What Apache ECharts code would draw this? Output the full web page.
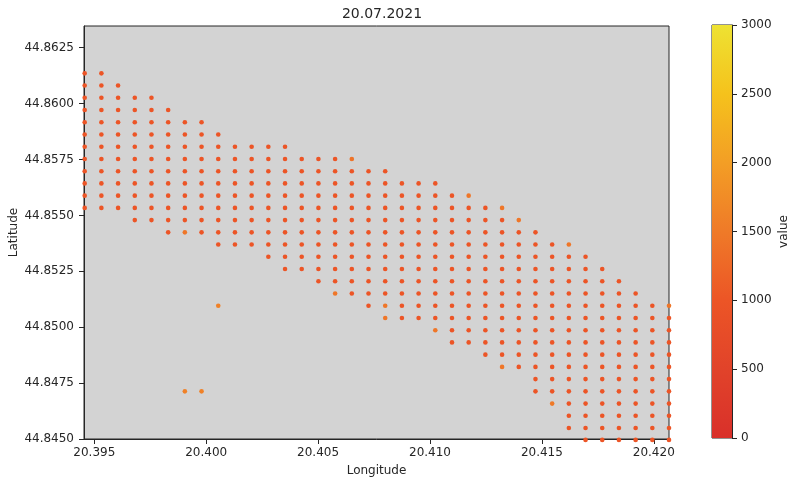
<!DOCTYPE html>
<html>
<head>
<meta charset="utf-8">
<script src="https://cdn.jsdelivr.net/npm/echarts@6/dist/echarts.min.js"></script>
<style>html,body{margin:0;padding:0;background:#fff;}#chart{width:789px;height:482px;}</style>
</head>
<body>
<div id="chart"></div>
<script>
// Longitudes of the grid columns
const lons = [20.394571, 20.395317, 20.396063, 20.396809, 20.397555, 20.398301, 20.399047, 20.399793,
  20.400539, 20.401285, 20.402031, 20.402777, 20.403523, 20.404269, 20.405015, 20.405761, 20.406507,
  20.407253, 20.407999, 20.408745, 20.409491, 20.410237, 20.410983, 20.411729, 20.412475, 20.413221,
  20.413967, 20.414713, 20.415459, 20.416205, 20.416951, 20.417697, 20.418443, 20.419189, 20.419935, 20.42068];
// Latitudes of the grid rows (top to bottom)
const lats = [44.861353, 44.860806, 44.860259, 44.859712, 44.859165, 44.858618, 44.858071, 44.857524,
  44.856977, 44.856430, 44.855883, 44.855336, 44.854789, 44.854242, 44.853695, 44.853148, 44.852601,
  44.852054, 44.851507, 44.850960, 44.850413, 44.849866, 44.849319, 44.848772, 44.848225, 44.847678,
  44.847131, 44.846584, 44.846037, 44.845490, 44.844960];
// First and last filled row for each column
const colTop    = [0,0,1,2,2,3,4,4,5,6,6,6,6,7,7,7,7,8,8,9,9,9,10,10,11,11,12,13,14,14,15,16,17,18,19,19];
const colBottom = [11,11,11,12,12,13,13,13,14,14,14,15,16,16,17,18,18,19,20,20,20,21,22,22,23,24,24,26,27,29,30,30,30,30,30,30];
// Typical value of a point and the points that look more orange: [column, row, value]
const baseValue = 1000;
const brighterPoints = [[6,13,1450],[15,18,1450],[18,19,1450],[18,20,1450],[21,21,1450],[16,7,1400],
  [23,10,1450],[25,11,1450],[26,12,1450],[29,14,1450],[25,24,1450],[28,27,1500],[35,19,1450]];
// Isolated points outside the strip: [column, row, value]
const isolatedPoints = [[6,26,1600],[7,26,1600],[8,19,1600]];
// Tick labels
const xTicks = [20.395, 20.400, 20.405, 20.410, 20.415, 20.420];
const yTicks = [44.8450, 44.8475, 44.8500, 44.8525, 44.8550, 44.8575, 44.8600, 44.8625];
const cbarTicks = [0, 500, 1000, 1500, 2000, 2500, 3000];
const cmapColors = ['#d9302a', '#e1432a', '#ec5526', '#ef7a28', '#f39e25', '#f5c21c', '#eee232'];

const special = {};
brighterPoints.concat(isolatedPoints).forEach(p => { special[p[0] + '_' + p[1]] = p[2]; });
const points = [];
for (let c = 0; c < lons.length; c++) {
  for (let r = colTop[c]; r <= colBottom[c]; r++) {
    const k = c + '_' + r;
    points.push([lons[c], lats[r], special[k] !== undefined ? special[k] : baseValue]);
  }
}
isolatedPoints.forEach(p => points.push([lons[p[0]], lats[p[1]], p[2]]));

const font = 'DejaVu Sans';
const txt = '#262626';
const line = '#262626';
const chart = echarts.init(document.getElementById('chart'));
chart.setOption({
  animation: false,
  backgroundColor: '#ffffff',
  textStyle: { fontFamily: font },
  title: {
    text: '20.07.2021', left: 377, top: 2, textAlign: 'center',
    textStyle: { fontFamily: font, fontSize: 14, fontWeight: 'normal', color: txt }
  },
  grid: [
    { left: 84, top: 26, width: 585, height: 413, show: true, backgroundColor: '#d3d3d3', borderColor: line, borderWidth: 1,
      containLabel: false, outerBoundsMode: 'none' },
    { left: 712, top: 25, width: 20, height: 413, show: true, borderColor: line, borderWidth: 1,
      containLabel: false, outerBoundsMode: 'none' }
  ],
  xAxis: [
    {
      type: 'value', gridIndex: 0, min: 20.39454, max: 20.42068,
      name: 'Longitude', nameLocation: 'middle', nameGap: 26,
      nameTextStyle: { fontFamily: font, fontSize: 12, color: txt },
      splitLine: { show: false },
      axisLine: { show: true, onZero: false, lineStyle: { color: line } },
      axisTick: { show: true, inside: false, length: 5, customValues: xTicks, lineStyle: { color: line } },
      axisLabel: { customValues: xTicks, margin: 8, fontFamily: font, fontSize: 12, color: txt,
        formatter: v => v.toFixed(3) }
    },
    { type: 'category', gridIndex: 1, data: [''], show: false, boundaryGap: true }
  ],
  yAxis: [
    {
      type: 'value', gridIndex: 0, min: 44.845, max: 44.86347,
      name: 'Latitude', nameLocation: 'middle', nameGap: 64, nameMoveOverlap: false,
      nameTextStyle: { fontFamily: font, fontSize: 12, color: txt },
      splitLine: { show: false },
      axisLine: { show: true, onZero: false, lineStyle: { color: line } },
      axisTick: { show: true, inside: false, length: 5, customValues: yTicks, lineStyle: { color: line } },
      axisLabel: { customValues: yTicks, margin: 10, fontFamily: font, fontSize: 12, color: txt,
        formatter: v => v.toFixed(4) }
    },
    {
      type: 'value', gridIndex: 1, position: 'right', min: 0, max: 3000, interval: 500,
      name: 'value', nameLocation: 'middle', nameGap: 46, nameRotate: 90,
      nameTextStyle: { fontFamily: font, fontSize: 12, color: txt },
      splitLine: { show: false },
      axisLine: { show: true, lineStyle: { color: line } },
      axisTick: { show: true, inside: false, length: 5, lineStyle: { color: line } },
      axisLabel: { margin: 9, fontFamily: font, fontSize: 12, color: txt, formatter: v => String(v) }
    }
  ],
  visualMap: {
    show: false, type: 'continuous', seriesIndex: 0, dimension: 2, min: 0, max: 3000,
    inRange: { color: cmapColors }
  },
  series: [
    {
      type: 'scatter', xAxisIndex: 0, yAxisIndex: 0, data: points, symbolSize: 4.6, clip: false,
      itemStyle: { opacity: 1 }
    },
    {
      type: 'bar', xAxisIndex: 1, yAxisIndex: 1, data: [cbarTicks[cbarTicks.length - 1]], barWidth: '100%',
      silent: true,
      itemStyle: {
        color: {
          type: 'linear', x: 0, y: 1, x2: 0, y2: 0,
          colorStops: cmapColors.map((c, i) => ({ offset: i / (cmapColors.length - 1), color: c }))
        }
      }
    }
  ]
});
</script>
</body>
</html>
